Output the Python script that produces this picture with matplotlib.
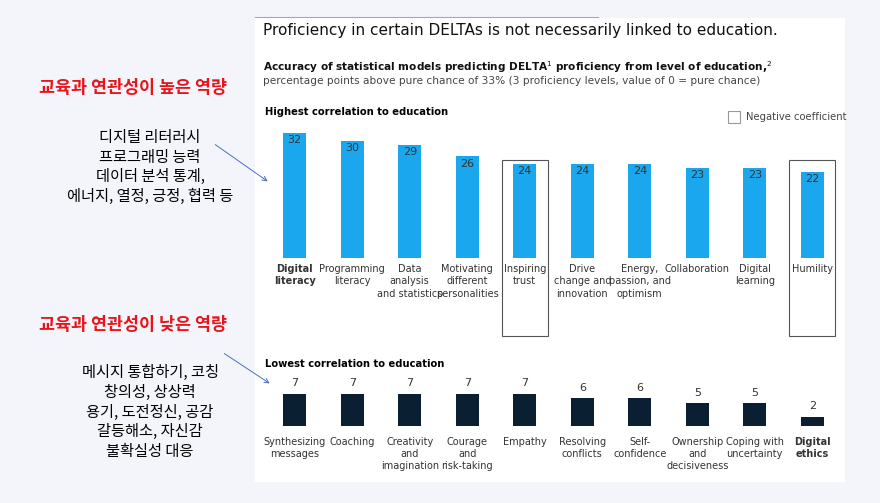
import matplotlib.pyplot as plt
from matplotlib.patches import Rectangle, FancyArrowPatch

plt.rcParams['font.family'] = ['DejaVu Sans', 'Noto Sans CJK KR']

# data
high_labels = ['Digital\nliteracy', 'Programming\nliteracy', 'Data\nanalysis\nand statistics',
               'Motivating\ndifferent\npersonalities', 'Inspiring\ntrust', 'Drive\nchange and\ninnovation',
               'Energy,\npassion, and\noptimism', 'Collaboration', 'Digital\nlearning', 'Humility']
high_values = [32, 30, 29, 26, 24, 24, 24, 23, 23, 22]
high_negative = [False, False, False, False, True, False, False, False, False, True]
high_bold = [True] + [False] * 9

low_labels = ['Synthesizing\nmessages', 'Coaching', 'Creativity\nand\nimagination', 'Courage\nand\nrisk-taking',
              'Empathy', 'Resolving\nconflicts', 'Self-\nconfidence', 'Ownership\nand\ndecisiveness',
              'Coping with\nuncertainty', 'Digital\nethics']
low_values = [7, 7, 7, 7, 7, 6, 6, 5, 5, 2]
low_bold = [False] * 9 + [True]

W, H = 880, 503
fig = plt.figure(figsize=(8.8, 5.03), dpi=100)
fig.patch.set_facecolor('#f3f5fa')

def fx(px): return px / W
def fy(py): return 1 - py / H

panel = Rectangle((fx(255), fy(482)), fx(845) - fx(255), fy(18) - fy(482),
                  transform=fig.transFigure, facecolor='white', edgecolor='none', zorder=-10)
fig.add_artist(panel)
fig.add_artist(plt.Line2D([fx(255), fx(598)], [fy(17), fy(17)], color='#8fa8e0', lw=0.8))

fig.text(fx(263), fy(30), 'Proficiency in certain DELTAs is not necessarily linked to education.',
         fontsize=11, va='center', color='#111111')
fig.text(fx(263), fy(67), 'Accuracy of statistical models predicting DELTA$^1$ proficiency from level of education,$^2$',
         fontsize=7.6, fontweight='bold', va='center', color='#111111')
fig.text(fx(263), fy(81), 'percentage points above pure chance of 33% (3 proficiency levels, value of 0 = pure chance)',
         fontsize=7.6, va='center', color='#444444')
fig.text(fx(265), fy(112), 'Highest correlation to education', fontsize=7.2, fontweight='bold', va='center')
fig.text(fx(265), fy(364), 'Lowest correlation to education', fontsize=7.2, fontweight='bold', va='center')
fig.add_artist(Rectangle((fx(728), fy(123)), fx(12), 12 / H, transform=fig.transFigure,
                         facecolor='white', edgecolor='#999999', lw=0.8))
fig.text(fx(746), fy(117), 'Negative coefficient', fontsize=7.2, va='center', color='#444444')

# Korean annotations
kr = ['Noto Sans CJK KR', 'DejaVu Sans']
fig.text(fx(133), fy(88), '교육과 연관성이 높은 역량', fontsize=12.5, fontweight='bold', color='#e8141b',
         ha='center', va='center', family=kr)
fig.text(fx(150), fy(167), '디지털 리터러시\n프로그래밍 능력\n데이터 분석 통계,\n에너지, 열정, 긍정, 협력 등',
         fontsize=11, ha='center', va='center', linespacing=1.2, family=kr, fontweight='medium')
fig.text(fx(133), fy(325), '교육과 연관성이 낮은 역량', fontsize=12.5, fontweight='bold', color='#e8141b',
         ha='center', va='center', family=kr)
fig.text(fx(150), fy(412), '메시지 통합하기, 코칭\n창의성, 상상력\n용기, 도전정신, 공감\n갈등해소, 자신감\n불확실성 대응',
         fontsize=11, ha='center', va='center', linespacing=1.2, family=kr, fontweight='medium')
for (x0, y0, x1, y1) in [(213, 143, 270, 183), (222, 352, 272, 385)]:
    fig.add_artist(FancyArrowPatch((fx(x0), fy(y0)), (fx(x1), fy(y1)), transform=fig.transFigure,
                                   arrowstyle='->', color='#4a6fc4', lw=0.7, mutation_scale=8))

# top chart
ax1 = fig.add_axes([fx(266), fy(258), fx(841) - fx(266), fy(125) - fy(258)])
x = range(len(high_values))
ax1.bar(x, high_values, width=0.4, color='#1aa7ee')
ax1.set_xlim(-0.5, 9.5)
ax1.set_ylim(0, 34)
for i, v in enumerate(high_values):
    ax1.text(i, v - 0.6, str(v), ha='center', va='top', fontsize=8, color='#333333')
    ax1.text(i, -1.5, high_labels[i], ha='center', va='top', fontsize=7,
             fontweight='bold' if high_bold[i] else 'normal', color='#333333', linespacing=1.3)
    if high_negative[i]:
        ax1.add_patch(Rectangle((i - 0.4, -20), 0.8, 45, facecolor='none', edgecolor='#555555',
                                lw=0.8, clip_on=False))
ax1.axis('off')

# bottom chart
ax2 = fig.add_axes([fx(266), fy(426), fx(841) - fx(266), fy(387) - fy(426)])
ax2.bar(x, low_values, width=0.4, color='#0b1f33')
ax2.set_xlim(-0.5, 9.5)
ax2.set_ylim(0, 8.5)
for i, v in enumerate(low_values):
    ax2.text(i, v + 1.2, str(v), ha='center', va='bottom', fontsize=8, color='#333333')
    ax2.text(i, -2.3, low_labels[i], ha='center', va='top', fontsize=7,
             fontweight='bold' if low_bold[i] else 'normal', color='#333333', linespacing=1.3)
ax2.axis('off')

fig.savefig('out.png', dpi=100, facecolor=fig.get_facecolor())
